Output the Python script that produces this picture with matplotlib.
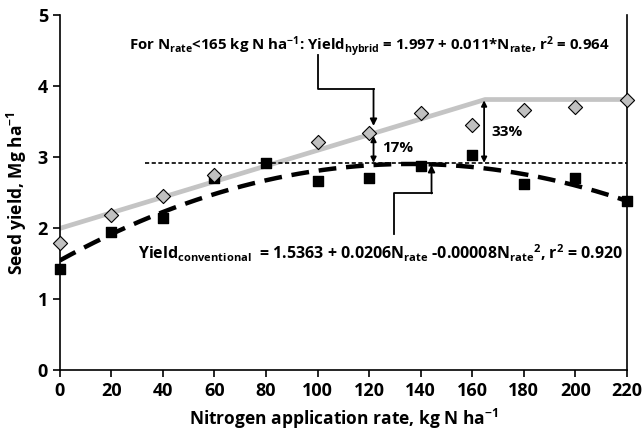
import numpy as np
import matplotlib
matplotlib.use("Agg")
import matplotlib.pyplot as plt

# nitrogen rates and measured seed yields (Mg/ha)
n_rate = [0, 20, 40, 60, 80, 100, 120, 140, 160, 180, 200, 220]
yield_hybrid = [1.79, 2.19, 2.46, 2.75, np.nan, 3.21, 3.34, 3.62, 3.46, 3.67, 3.71, 3.81]
yield_conv = [1.43, 1.94, 2.15, 2.70, 2.92, 2.67, 2.71, 2.87, 3.03, 2.62, 2.70, 2.38]

# linear-plateau fit for hybrid (vertices)
plateau_x = [0, 165, 220]
plateau_y = [1.997, 3.812, 3.812]

# quadratic trend
curve_x = [0, 20, 40, 60, 80, 100, 120, 140, 160, 180, 200, 220]
curve_y = [1.55, 1.92, 2.22, 2.48, 2.67, 2.80, 2.88, 2.92, 2.88, 2.75, 2.60, 2.38]

max_conv = 2.92

plt.rcParams["font.family"] = ["Open Sans", "DejaVu Sans"]
plt.rcParams["mathtext.default"] = "regular"

fig = plt.figure(figsize=(6.43, 4.33), dpi=100)
ax = fig.add_axes([0.093, 0.145, 0.882, 0.82])

# smooth the trend with a 2nd order polynomial through the read points
coef = np.polyfit(curve_x, curve_y, 2)
xs = np.linspace(0, 220, 200)
ax.plot(xs, np.polyval(coef, xs), color="black", lw=3.2, dashes=(4, 2.2), zorder=3)
ax.plot(plateau_x, plateau_y, color="#c4c4c4", lw=3.4, zorder=2, solid_capstyle="butt")
ax.plot([33, 220], [max_conv, max_conv], color="black", lw=1.2, dashes=(2.5, 1.5), zorder=2)

ax.scatter(n_rate, yield_conv, marker="s", s=48, color="black", zorder=4, clip_on=False)
ax.scatter(n_rate, yield_hybrid, marker="D", s=52, facecolor="#c0c0c0",
           edgecolor="black", linewidth=0.8, zorder=5, clip_on=False)

# difference arrows
arr = dict(arrowstyle="<|-|>", color="black", lw=1.3, mutation_scale=8, shrinkA=0, shrinkB=0)
ax.annotate("", xy=(121.7, 3.30), xytext=(121.7, max_conv), arrowprops=arr)
ax.annotate("", xy=(164.6, 3.80), xytext=(164.6, max_conv), arrowprops=arr)
ax.text(125, 3.13, "17%", fontsize=11, fontweight="bold", va="center", ha="left")
ax.text(167.3, 3.35, "33%", fontsize=11, fontweight="bold", va="center", ha="left")

# leader arrows to the equations
head = dict(arrowstyle="-|>", color="black", lw=1.3, mutation_scale=10, shrinkA=0, shrinkB=0)
ax.plot([100, 100, 121.7], [4.44, 3.96, 3.96], color="black", lw=1.3)
ax.annotate("", xy=(121.7, 3.44), xytext=(121.7, 3.96), arrowprops=head)
ax.plot([129.6, 129.6, 144.2], [1.92, 2.49, 2.49], color="black", lw=1.3)
ax.annotate("", xy=(144.2, 2.89), xytext=(144.2, 2.49), arrowprops=head)

ax.text(120, 4.56, r"For N$_{rate}$<165 kg N ha$^{-1}$: Yield$_{hybrid}$ = 1.997 + 0.011*N$_{rate}$, r$^{2}$ = 0.964",
        fontsize=10.8, fontweight="bold", ha="center", va="center")
ax.text(124.5, 1.64, r"Yield$_{conventional}$  = 1.5363 + 0.0206N$_{rate}$ -0.00008N$_{rate}$$^{2}$, r$^{2}$ = 0.920",
        fontsize=11.5, fontweight="bold", ha="center", va="center")

ax.set_xlim(0, 220)
ax.set_ylim(0, 5)
ax.set_xticks(range(0, 221, 20))
ax.set_yticks(range(0, 6))
ax.tick_params(axis="both", labelsize=13, direction="out", length=5, width=1.2)
for lab in ax.get_xticklabels() + ax.get_yticklabels():
    lab.set_fontweight("bold")
ax.spines["top"].set_visible(False)
for s in ["left", "bottom", "right"]:
    ax.spines[s].set_linewidth(1.2)

ax.set_xlabel(r"Nitrogen application rate, kg N ha$^{-1}$", fontsize=12.5, fontweight="bold", labelpad=5)
ax.set_ylabel(r"Seed yield, Mg ha$^{-1}$", fontsize=12.5, fontweight="bold", labelpad=6)

fig.savefig("out.png", dpi=100)
